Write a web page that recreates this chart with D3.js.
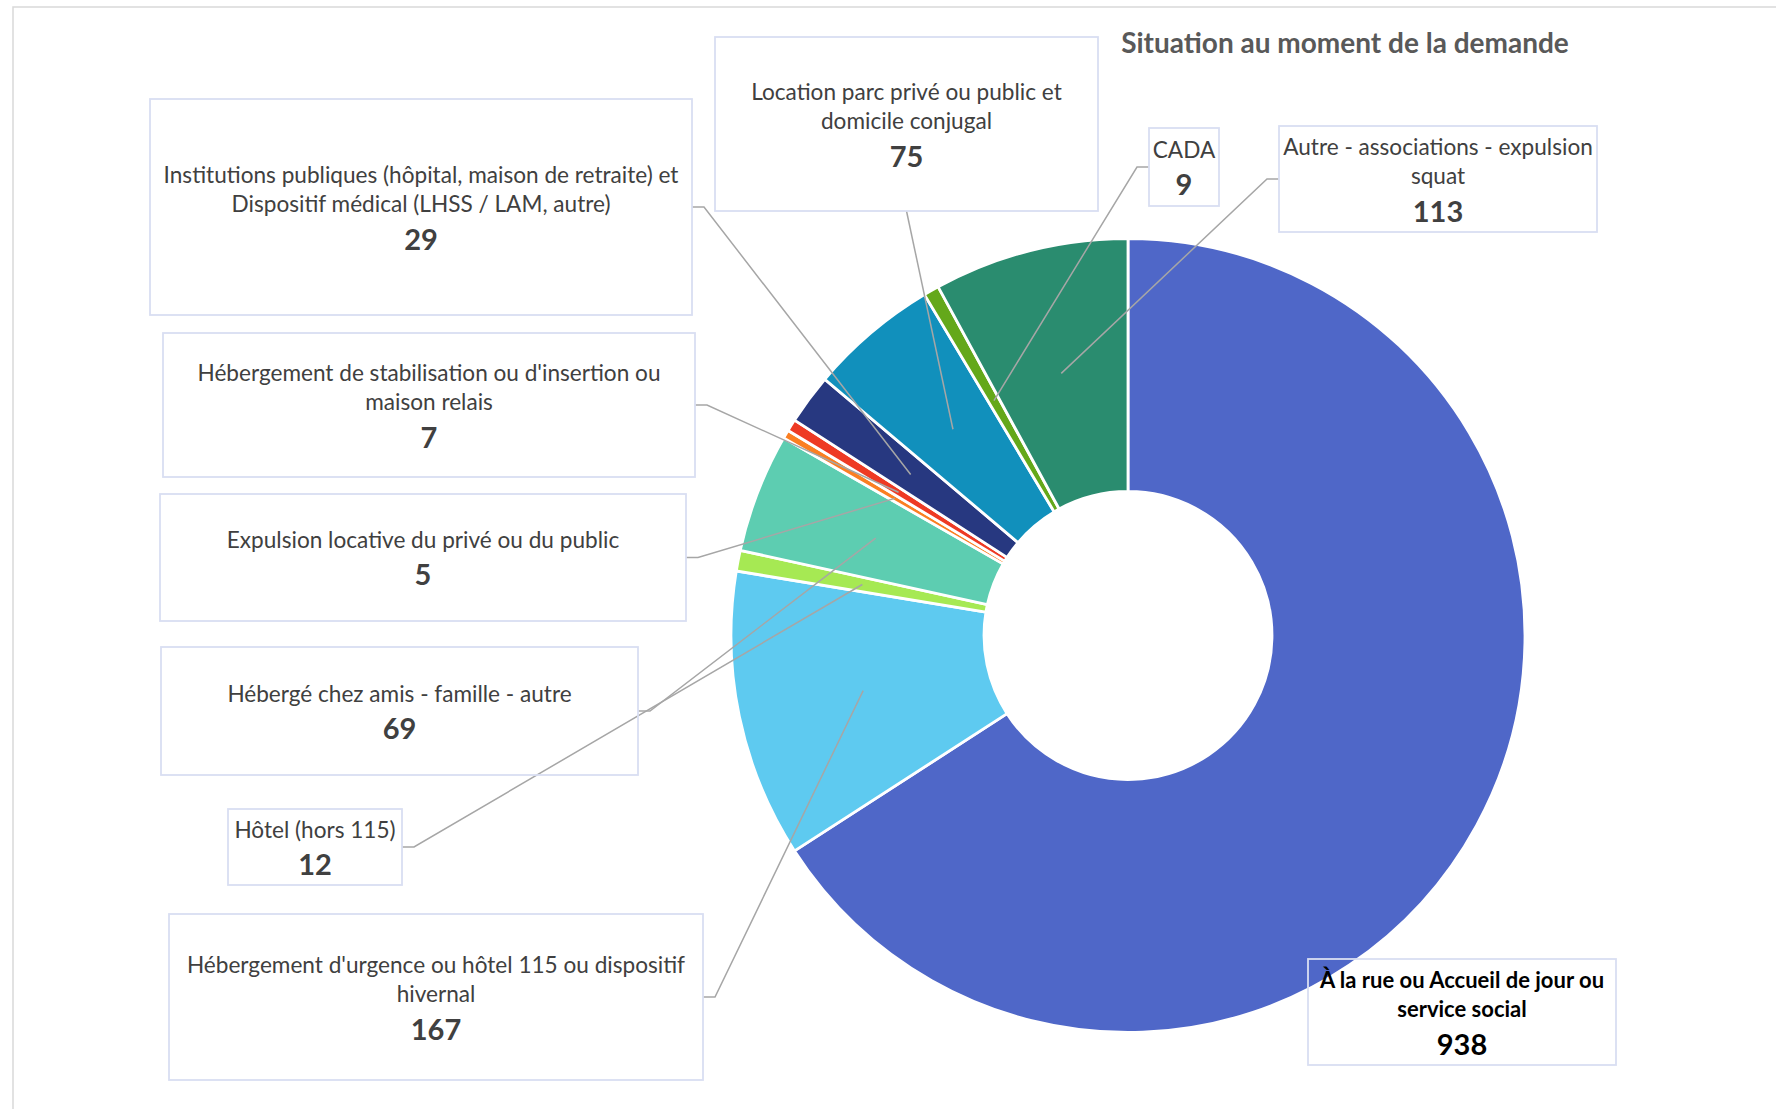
<!DOCTYPE html>
<html>
<head>
<meta charset="utf-8">
<script src="https://cdn.jsdelivr.net/npm/d3@7"></script>
<style>
body { margin: 0; background: #fff; }
</style>
</head>
<body>
<svg id="chart"></svg>
<script>
// data, clockwise from 12 o'clock
var categories = [
    "À la rue ou Accueil de jour ou service social",
    "Hébergement d'urgence ou hôtel 115 ou dispositif hivernal",
    "Hôtel (hors 115)",
    "Hébergé chez amis - famille - autre",
    "Expulsion locative du privé ou du public",
    "Hébergement de stabilisation ou d'insertion ou maison relais",
    "Institutions publiques (hôpital, maison de retraite) et Dispositif médical (LHSS / LAM, autre)",
    "Location parc privé ou public et domicile conjugal",
    "CADA",
    "Autre - associations - expulsion squat"
];
var values = [938, 167, 12, 69, 5, 7, 29, 75, 9, 113];
var colors = ['#4f67c8', '#5ecaf0', '#a6e953', '#5dcdb1', '#fb7f22', '#ee3a24', '#273880', '#1190bc', '#64a81a', '#2a8c6f'];

// how each label is wrapped in its box
var labelLines = [
    ["À la rue ou Accueil de jour ou", "service social"],
    ["Hébergement d'urgence ou hôtel 115 ou dispositif", "hivernal"],
    ["Hôtel (hors 115)"],
    ["Hébergé chez amis - famille - autre"],
    ["Expulsion locative du privé ou du public"],
    ["Hébergement de stabilisation ou d'insertion ou", "maison relais"],
    ["Institutions publiques (hôpital, maison de retraite) et", "Dispositif médical (LHSS / LAM, autre)"],
    ["Location parc privé ou public et", "domicile conjugal"],
    ["CADA"],
    ["Autre - associations - expulsion", "squat"]
];

// label box layout (where the callouts sit)
var boxes = [
    {x: 1308, y: 959, w: 308, h: 106, side: null},
    {x: 169, y: 914, w: 534, h: 166, side: 'right'},
    {x: 228, y: 809, w: 174, h: 76, side: 'right'},
    {x: 161, y: 647, w: 477, h: 128, side: 'right'},
    {x: 160, y: 494, w: 526, h: 127, side: 'right'},
    {x: 163, y: 333, w: 532, h: 144, side: 'right'},
    {x: 150, y: 99, w: 542, h: 216, side: 'right'},
    {x: 715, y: 37, w: 383, h: 174, side: 'bottom'},
    {x: 1149, y: 128, w: 70, h: 78, side: 'left'},
    {x: 1279, y: 126, w: 318, h: 106, side: 'left'}
];

var width = 1776;
var height = 1109;
var cx = 1128, cy = 635.5;
var outerR = 397, innerR = 144;
var font = "Lato, 'Open Sans', sans-serif";

var svg = d3.select('#chart')
    .attr('width', width)
    .attr('height', height);

// chart area frame
svg.append('rect')
    .attr('x', 13)
    .attr('y', 7)
    .attr('width', width)
    .attr('height', height)
    .attr('fill', 'none')
    .attr('stroke', '#d9d9d9')
    .attr('stroke-width', 1.5);

svg.append('text')
    .attr('x', 1345)
    .attr('y', 53)
    .attr('text-anchor', 'middle')
    .attr('font-family', font)
    .attr('font-weight', 'bold')
    .attr('font-size', 28)
    .attr('fill', '#595959')
    .text('Situation au moment de la demande');

var pie = d3.pie()
    .sort(null)
    .value(d => d);

var arc = d3.arc()
    .innerRadius(innerR)
    .outerRadius(outerR);

var arcs = pie(values);

var g = svg.append('g')
    .attr('transform', 'translate(' + cx + ',' + cy + ')');

g.selectAll('path')
    .data(arcs)
    .enter()
    .append('path')
    .attr('d', arc)
    .attr('fill', (d, i) => colors[i])
    .attr('stroke', '#fff')
    .attr('stroke-width', 2.8);

// leader lines from box to slice centroid
var stub = 12;
arcs.forEach(function(a, i) {
    var b = boxes[i];
    if (!b.side) return;
    var c = arc.centroid(a);
    var end = [cx + c[0], cy + c[1]];
    var pts;
    if (b.side === 'right') {
        var my = b.y + b.h / 2;
        pts = [[b.x + b.w, my], [b.x + b.w + stub, my], end];
    } else if (b.side === 'left') {
        var my2 = b.y + b.h / 2;
        pts = [[b.x, my2], [b.x - stub, my2], end];
    } else {
        pts = [[b.x + b.w / 2, b.y + b.h], end];
    }
    svg.append('path')
        .attr('d', d3.line()(pts))
        .attr('fill', 'none')
        .attr('stroke', '#a6a6a6')
        .attr('stroke-width', 1.5);
});

// label boxes
var lineGap = 29.5, numGap = 35;
boxes.forEach(function(b, i) {
    svg.append('rect')
        .attr('x', b.x)
        .attr('y', b.y)
        .attr('width', b.w)
        .attr('height', b.h)
        .attr('fill', 'none')
        .attr('stroke', '#d9def2')
        .attr('stroke-width', 1.8);

    var lines = labelLines[i];
    var span = (lines.length - 1) * lineGap + numGap;
    var y0 = b.y + b.h / 2 - span / 2;
    var mx = b.x + b.w / 2;
    var main = i === 0;

    lines.forEach(function(t, k) {
        svg.append('text')
            .attr('x', mx)
            .attr('y', y0 + k * lineGap)
            .attr('dy', '0.36em')
            .attr('text-anchor', 'middle')
            .attr('font-family', font)
            .attr('font-size', main ? 22 : 22.6)
            .attr('font-weight', main ? 'bold' : 'normal')
            .attr('fill', main ? '#000' : '#404040')
            .text(t);
    });

    svg.append('text')
        .attr('x', mx)
        .attr('y', y0 + span)
        .attr('dy', '0.36em')
        .attr('text-anchor', 'middle')
        .attr('font-family', font)
        .attr('font-size', 29)
        .attr('font-weight', 'bold')
        .attr('fill', main ? '#000' : '#404040')
        .text(values[i]);
});
</script>
</body>
</html>
